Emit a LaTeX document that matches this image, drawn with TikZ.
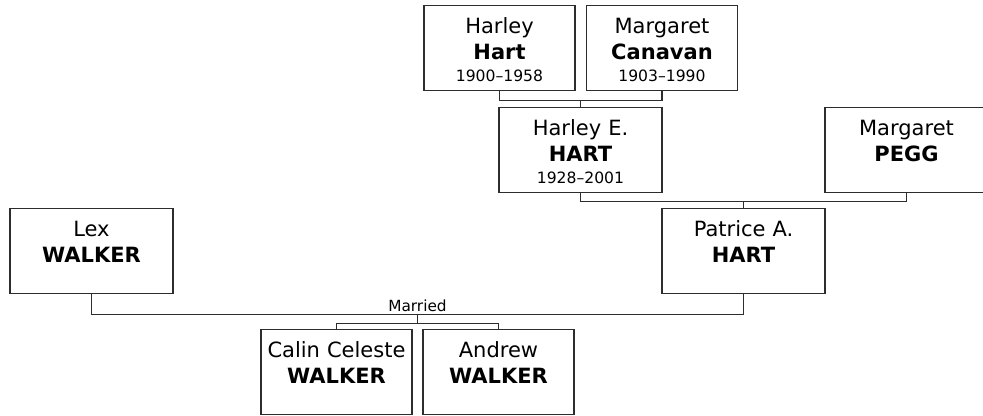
\documentclass[tikz,border=0pt]{standalone}
\usepackage{fontspec}
\setmainfont{DejaVu Sans}
\usetikzlibrary{calc}
\definecolor{LineGray}{RGB}{45,45,45}
\newcommand{\lifespan}[1]{{\fontsize{11.7}{14}\selectfont #1}}

\begin{document}
\begin{tikzpicture}[x=0.75pt,y=-0.75pt,
  person/.style={draw=LineGray,line width=0.9pt,anchor=north,inner sep=0pt,
                 text width=122.25pt,align=center,text height=21pt,text depth=42.75pt,
                 font=\fontsize{15.75}{19.5}\selectfont},
  narrow/.style={person,text width=113.25pt},
  link/.style={draw=LineGray,line width=0.8pt},
]
\useasboundingbox (0,0) rectangle (983,416);
% grandparents
\node[narrow] (harley) at (499.5,5) {Harley\\\textbf{Hart}\\[-3pt]\lifespan{1900–1958}};
\node[narrow] (margaret) at (662,5) {Margaret\\\textbf{Canavan}\\[-3pt]\lifespan{1903–1990}};
% parents of Patrice
\node[person] (harleye) at (580.5,107) {Harley E.\\\textbf{HART}\\[-3pt]\lifespan{1928–2001}};
\node[person] (pegg) at (906.5,107) {Margaret\\\textbf{PEGG}};
% couple
\node[person] (patrice) at (743.5,208) {Patrice A.\\\textbf{HART}};
\node[person] (lex) at (91.5,208) {Lex\\\textbf{WALKER}};
% children
\node[narrow] (calin) at (336.5,329) {Calin Celeste\\\textbf{WALKER}};
\node[narrow] (andrew) at (498.5,329) {Andrew\\\textbf{WALKER}};

\coordinate (topbar) at ($(harley.south)!.5!(margaret.south)+(0,9)$);
\draw[link] (harley.south) |- (topbar) -| (margaret.south);
\draw[link] (topbar) -- (topbar |- harleye.north);

\coordinate (midbar) at ($(harleye.south)!.5!(pegg.south)+(0,8)$);
\draw[link] (harleye.south) |- (midbar) -| (pegg.south);
\draw[link] (midbar) -- (midbar |- patrice.north);

\coordinate (married) at ($(lex.south)!.5!(patrice.south)+(0,20.5)$);
\draw[link] (lex.south) |- (married) -| (patrice.south);
\node[anchor=base,inner sep=0pt,font=\fontsize{11.5}{13}\selectfont] (marriedtext)
  at ($(married)+(0,-3.5)$) {Married};

\coordinate (kids) at ($(married)+(0,8.5)$);
\draw[link] (married) -- (kids);
\draw[link] (calin.north) |- (kids) -| (andrew.north);
\end{tikzpicture}
\end{document}
